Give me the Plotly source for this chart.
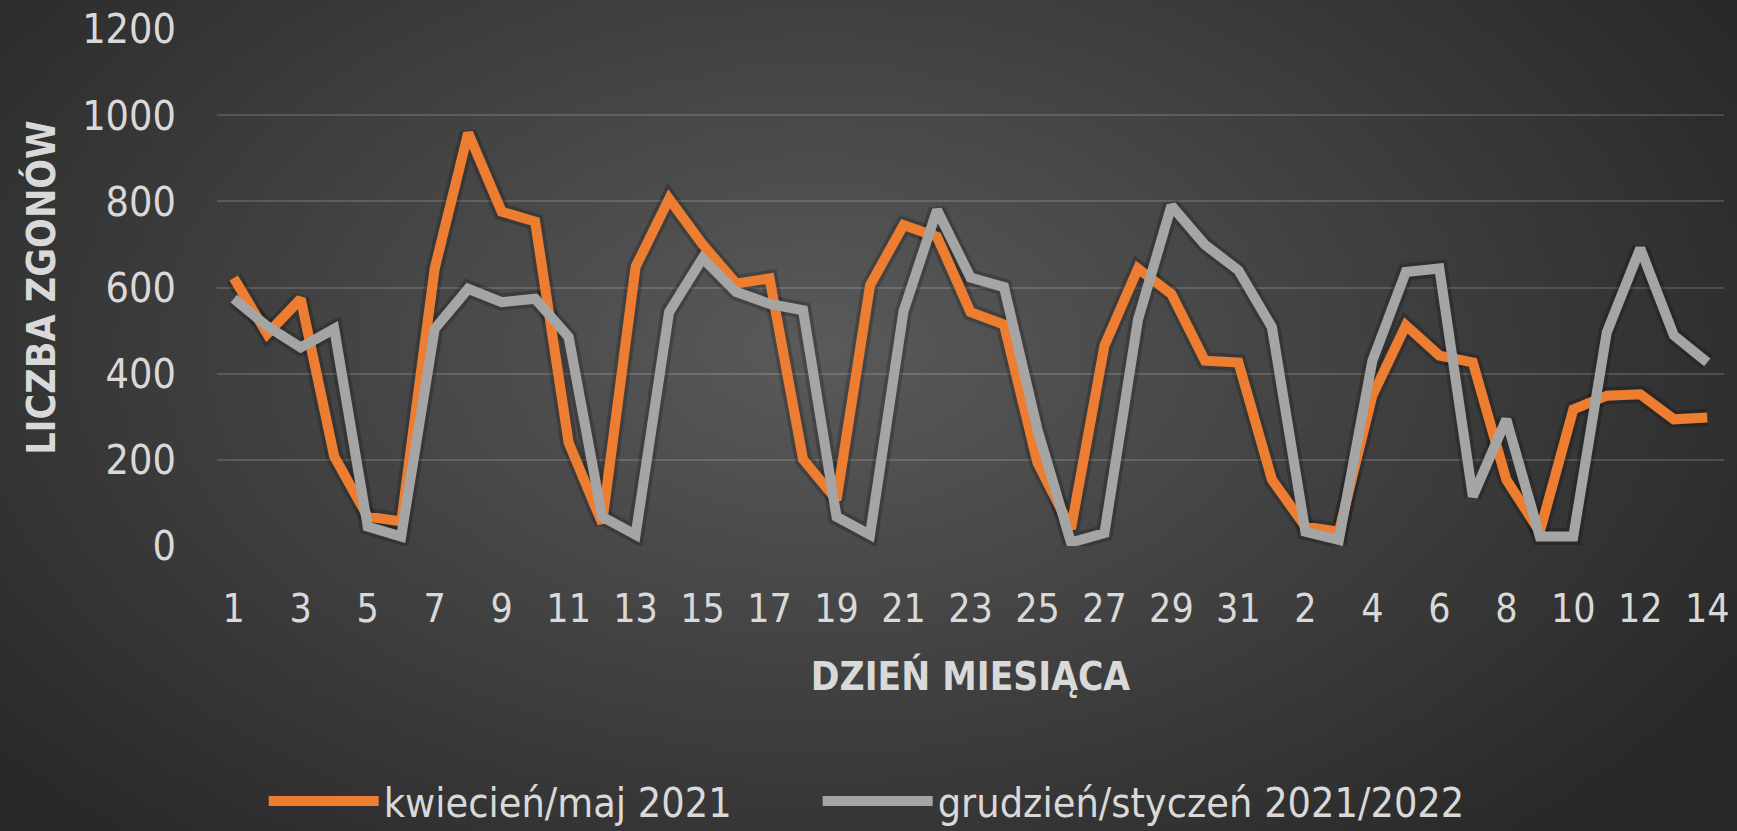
import base64
import struct
import zlib
import math
import plotly.graph_objects as go

# ---- data ----
day_labels = ["1", "2", "3", "4", "5", "6", "7", "8", "9", "10", "11", "12", "13", "14", "15",
              "16", "17", "18", "19", "20", "21", "22", "23", "24", "25", "26", "27", "28", "29",
              "30", "31", "1", "2", "3", "4", "5", "6", "7", "8", "9", "10", "11", "12", "13", "14"]

kwiecien_maj_2021 = [622, 492, 574, 208, 68, 57, 644, 959, 776, 753, 240, 53, 648, 806, 700,
                     609, 621, 201, 107, 605, 745, 718, 543, 514, 193, 40, 465, 644, 585,
                     430, 426, 154, 45, 33, 349, 512, 442, 426, 154, 33, 317, 349, 352, 294, 298]

grudzien_styczen_2021_2022 = [574, 510, 461, 504, 45, 22, 504, 597, 566, 574, 485, 68, 26, 543, 668,
                              590, 562, 547, 68, 26, 545, 780, 623, 601, 270, 8, 30, 525, 790,
                              699, 640, 508, 33, 14, 430, 636, 644, 115, 294, 22, 22, 496, 691, 489, 426]

series_names = ["kwiecień/maj 2021", "grudzień/styczeń 2021/2022"]
y_ticks = [0, 200, 400, 600, 800, 1000, 1200]

# ---- layout constants ----
W, H = 1737, 831
ML, MR, MT, MB = 217, 13, 29, 285
PW, PH = W - ML - MR, H - MT - MB

# ---- radial background gradient as png ----
def make_png(w, h):
    cx, cy = 0.47 * w, 0.42 * h
    rows = []
    for yy in range(h):
        row = bytearray([0])
        for xx in range(w):
            dx = (xx + 0.5 - cx) / (0.62 * w)
            dy = (yy + 0.5 - cy) / (0.80 * h)
            r = min(1.0, math.sqrt(dx * dx + dy * dy))
            v = int(round(40 + 50 * (1 - r)))
            row += bytes([v, v, v])
        rows.append(bytes(row))
    raw = b"".join(rows)

    def chunk(tag, data):
        c = struct.pack(">I", len(data)) + tag + data
        return c + struct.pack(">I", zlib.crc32(tag + data) & 0xFFFFFFFF)

    png = b"\x89PNG\r\n\x1a\n"
    png += chunk(b"IHDR", struct.pack(">IIBBBBB", w, h, 8, 2, 0, 0, 0))
    png += chunk(b"IDAT", zlib.compress(raw, 9))
    png += chunk(b"IEND", b"")
    return "data:image/png;base64," + base64.b64encode(png).decode()

bg = make_png(348, 166)

FONT = "Liberation Sans Narrow, DejaVu Sans Condensed, Roboto Condensed, Liberation Sans, sans-serif"
TXT = "#d9d9d9"

x_idx = list(range(len(day_labels)))

fig = go.Figure()
colors = ["#ED7D31", "#A5A5A5"]
data = [kwiecien_maj_2021, grudzien_styczen_2021_2022]
legends = ["legend", "legend2"]

# soft shadows
for vals in data:
    fig.add_trace(go.Scatter(x=x_idx, y=vals, mode="lines",
                             line=dict(color="rgba(0,0,0,0.2)", width=17),
                             showlegend=False, hoverinfo="skip"))
for name, vals, col, lg in zip(series_names, data, colors, legends):
    fig.add_trace(go.Scatter(x=x_idx, y=vals, mode="lines", name=name, legend=lg,
                             line=dict(color=col, width=10)))

legend_common = dict(orientation="h", xanchor="left", y=-0.494, yanchor="middle",
                     font=dict(size=41, color=TXT), itemwidth=110,
                     bgcolor="rgba(0,0,0,0)")

fig.update_layout(
    width=W, height=H,
    margin=dict(l=ML, r=MR, t=MT, b=MB, autoexpand=False),
    paper_bgcolor="#2e2e2e",
    plot_bgcolor="rgba(0,0,0,0)",
    font=dict(family=FONT, color=TXT, size=38),
    showlegend=True,
    legend=dict(x=0.031, **legend_common),
    legend2=dict(x=0.3986, **legend_common),
    images=[dict(source=bg, xref="paper", yref="paper",
                 x=-ML / PW, y=1 + MT / PH, sizex=W / PW, sizey=H / PH,
                 sizing="stretch", layer="below", xanchor="left", yanchor="top")],
)

fig.update_xaxes(
    range=[-0.5, len(day_labels) - 0.5],
    tickmode="array", tickvals=x_idx[::2], ticktext=day_labels[::2],
    showgrid=False, zeroline=False, showline=False, ticks="",
    automargin=False,
    ticklabelstandoff=36,
    tickfont=dict(size=39, color=TXT, family=FONT),
    title=dict(text="<b>DZIEŃ MIESIĄCA</b>", font=dict(size=38.5, color=TXT, family=FONT), standoff=33),
)
fig.update_yaxes(
    range=[0, 1200], tickvals=y_ticks,
    showgrid=True, gridcolor="rgba(255,255,255,0.15)", gridwidth=2,
    zeroline=False, showline=False, ticks="",
    automargin=False,
    ticklabelstandoff=40,
    tickfont=dict(size=41, color=TXT, family=FONT),
    title=dict(text="<b>LICZBA ZGONÓW</b>", font=dict(size=39, color=TXT, family=FONT), standoff=14),
)

fig.write_html(
    "out.html",
    config={"displayModeBar": False},
    post_script="document.body.style.margin='0';document.body.style.background='#2e2e2e';document.documentElement.style.overflow='hidden';",
)
